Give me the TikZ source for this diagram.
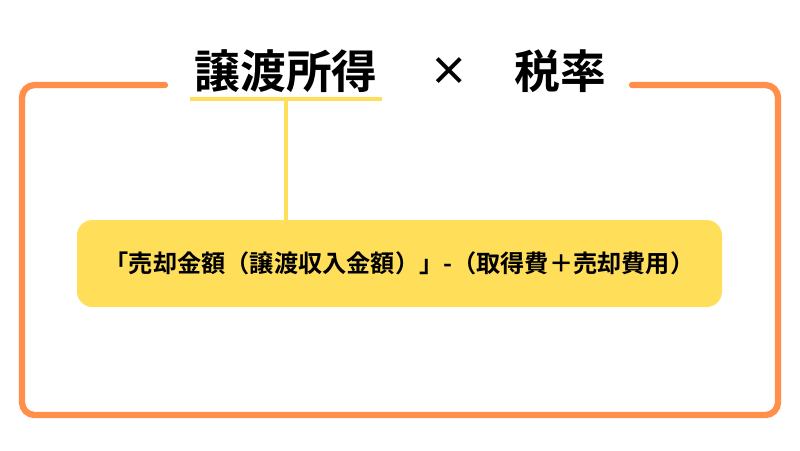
\documentclass[tikz,border=0pt]{standalone}
\usepackage{fontspec}
\setmainfont{Noto Sans CJK JP}[BoldFont={Noto Sans CJK JP Bold}]
\definecolor{frameor}{HTML}{FF8F4A}
\definecolor{ylw}{HTML}{FFDE59}
\tikzset{frame/.style={draw=frameor,line width=4.5pt,rounded corners=9pt,line cap=round},
 title/.style={font=\bfseries\fontsize{32.5}{34}\selectfont,inner sep=0},
 formula/.style={fill=ylw,rounded corners=11pt,minimum width=645*0.025cm,minimum height=87*0.025cm,font=\bfseries\fontsize{17.2}{19}\selectfont}}
\begin{document}
\begin{tikzpicture}[x=0.025cm,y=-0.025cm]
\useasboundingbox (0,0) rectangle (800,450);
\coordinate (fs) at (165,85);
\coordinate (fe) at (632,85);
\draw[frame] (fs) -- (22,85) -- (22,415) -- (778,415) -- (778,85) -- (fe);
\node[title] (t1) at (286,71) {譲渡所得};
\node[title,font=\bfseries\fontsize{28}{30}\selectfont] (tx) at (449,72) {×};
\node[title] (t2) at (560,71) {税率};
\coordinate (ul) at (190,99);
\coordinate (ur) at (382,99);
\coordinate (um) at (286,99);
\draw[ylw,line width=3.5pt] (ul) -- (ur);
\node[formula] (box) at (399.5,263.5) {「売却金額（譲渡収入金額）」-（取得費＋売却費用）};
\draw[ylw,line width=3.5pt] (um) -- (box.north -| um);
\end{tikzpicture}
\end{document}
